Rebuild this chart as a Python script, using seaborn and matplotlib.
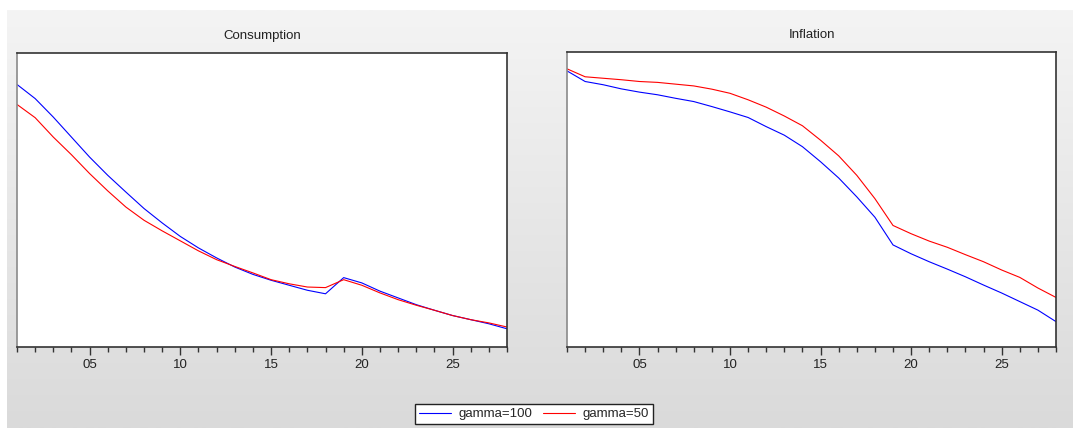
import numpy as np
import pandas as pd
import matplotlib
matplotlib.use('Agg')
import matplotlib.pyplot as plt
import seaborn as sns

# periods 1..28, values (arbitrary units, axis has no y labels)
periods = list(range(1, 29))

cons_g100 = [89.3, 84.5, 78.2, 71.4, 64.6, 58.4, 52.7, 47.1, 42.2, 37.6, 33.7, 30.3, 27.2, 24.7,
             22.7, 21.0, 19.3, 18.1, 23.6, 21.8, 19.0, 16.7, 14.4, 12.5, 10.7, 9.3, 7.9, 6.2]
cons_g50 = [82.5, 78.0, 71.4, 65.4, 59.0, 53.1, 47.6, 43.1, 39.5, 36.1, 32.7, 29.7, 27.4, 25.2,
            22.9, 21.5, 20.4, 20.2, 22.9, 21.0, 18.4, 16.1, 14.2, 12.5, 10.7, 9.3, 8.2, 6.8]

infl_g100 = [93.6, 90.0, 88.9, 87.5, 86.4, 85.5, 84.3, 83.2, 81.5, 79.7, 77.8, 74.7, 71.8, 67.9,
             62.8, 57.3, 50.9, 44.0, 34.6, 31.6, 28.9, 26.4, 23.8, 21.0, 18.3, 15.4, 12.5, 8.6]
infl_g50 = [94.3, 91.6, 91.1, 90.6, 90.0, 89.7, 89.1, 88.5, 87.4, 86.0, 83.8, 81.3, 78.3, 75.0,
            70.1, 64.8, 58.2, 50.3, 41.2, 38.4, 35.9, 33.8, 31.3, 28.9, 26.1, 23.6, 20.0, 16.8]

series_names = ['gamma=100', 'gamma=50']
titles = ['Consumption', 'Inflation']
tick_labels = {5: '05', 10: '10', 15: '15', 20: '20', 25: '25'}

df = pd.concat([
    pd.DataFrame({'period': periods, 'value': cons_g100, 'series': series_names[0], 'panel': titles[0]}),
    pd.DataFrame({'period': periods, 'value': cons_g50, 'series': series_names[1], 'panel': titles[0]}),
    pd.DataFrame({'period': periods, 'value': infl_g100, 'series': series_names[0], 'panel': titles[1]}),
    pd.DataFrame({'period': periods, 'value': infl_g50, 'series': series_names[1], 'panel': titles[1]}),
])

sns.set_style('white')
plt.rcParams['font.family'] = ['Liberation Sans', 'DejaVu Sans']

W, H = 1073, 428
fig = plt.figure(figsize=(W / 100, H / 100), dpi=100)
fig.patch.set_facecolor('white')

# gray gradient panel behind everything
bg = fig.add_axes([7 / W, 0, 1 - 7 / W, 1 - 10 / H], zorder=-10)
grad = np.linspace(0, 1, 256).reshape(-1, 1)
bg.imshow(grad, aspect='auto', cmap=matplotlib.colors.LinearSegmentedColormap.from_list(
    'g', ['#f4f4f4', '#dadada']), extent=[0, 1, 0, 1], origin='upper')
bg.set_axis_off()

palette = {series_names[0]: '#0000ff', series_names[1]: '#ff0000'}
boxes = [(17, 53, 507, 347), (567, 52, 1056, 347)]

for (x0, y0, x1, y1), title in zip(boxes, titles):
    ax = fig.add_axes([x0 / W, 1 - y1 / H, (x1 - x0) / W, (y1 - y0) / H])
    ax.set_facecolor('white')
    sns.lineplot(data=df[df['panel'] == title], x='period', y='value', hue='series',
                 palette=palette, linewidth=0.8, ax=ax, legend=False)
    ax.set_xlim(1, 28)
    ax.set_ylim(0, 100)
    ax.set_xlabel('')
    ax.set_ylabel('')
    ax.set_yticks([])
    ax.set_xticks(list(tick_labels.keys()))
    ax.set_xticklabels(list(tick_labels.values()), fontsize=9.5, color='#222222')
    ax.set_xticks(periods, minor=True)
    ax.tick_params(axis='x', which='major', bottom=True, direction='out', length=6, width=1,
                   color='#333333', pad=3)
    ax.tick_params(axis='x', which='minor', bottom=True, direction='out', length=3.5, width=1,
                   color='#333333')
    for side in ['top', 'right', 'bottom']:
        ax.spines[side].set_color('#333333')
        ax.spines[side].set_linewidth(1.2)
    ax.spines['left'].set_color('#8a8a8a')
    ax.spines['left'].set_linewidth(1.2)
    ax.set_title(title, fontsize=9.5, color='#222222', pad=10)

handles = [plt.Line2D([], [], color=palette[s], linewidth=0.8) for s in series_names]
leg = fig.legend(handles, series_names, loc='center', bbox_to_anchor=(534 / W, 1 - 414 / H),
                 ncol=2, fontsize=9.5, frameon=True, fancybox=False, framealpha=1,
                 edgecolor='#222222', handlelength=2.4, columnspacing=0.8, handletextpad=0.6,
                 borderpad=0.3, borderaxespad=0)
leg.get_frame().set_linewidth(1.0)

fig.savefig('out.png', dpi=100)
